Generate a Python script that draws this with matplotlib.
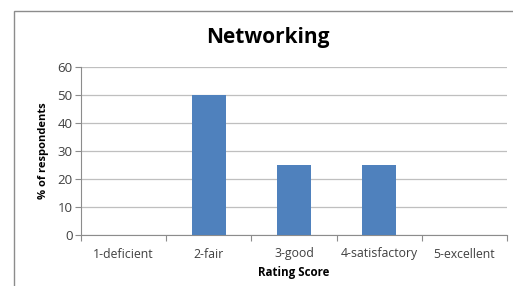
import matplotlib.pyplot as plt
from matplotlib.patches import Rectangle

categories = ["1-deficient", "2-fair", "3-good", "4-satisfactory", "5-excellent"]
values = [0, 50, 25, 25, 0]
y_ticks = [0, 10, 20, 30, 40, 50, 60]

plt.rcParams['font.family'] = ['Open Sans', 'DejaVu Sans']

fig = plt.figure(figsize=(5.13, 2.86), dpi=100)
fig.patches.append(Rectangle((14 / 513, -0.2), 1.2, 0.2 + 1 - 11 / 286,
                             transform=fig.transFigure, fill=False,
                             edgecolor='#8c8c8c', linewidth=1.0))

ax = fig.add_axes([81 / 513, 1 - 235 / 286, (507 - 81) / 513, (235 - 66.7) / 286])
x = list(range(len(categories)))
ax.bar(x, values, width=0.4, color='#4f81bd', zorder=3)

ax.set_xlim(-0.5, len(categories) - 0.5)
ax.set_ylim(0, 60)
ax.set_yticks(y_ticks)
ax.yaxis.grid(True, color='#bfbfbf', linewidth=0.9, zorder=0)

# boundary ticks between categories, labels centred on categories
ax.set_xticks([i + 0.5 for i in range(-1, len(categories))])
ax.set_xticklabels([])
ax.set_xticks(x, minor=True)
ax.set_xticklabels(categories, minor=True)
ax.tick_params(axis='x', which='minor', length=0, pad=9, labelsize=8.8, labelcolor='#404040')
ax.tick_params(axis='x', which='major', length=4, color='#8c8c8c', direction='out')
ax.tick_params(axis='y', length=4, color='#8c8c8c', labelsize=9.5, labelcolor='#404040', pad=2)

for side in ['top', 'right']:
    ax.spines[side].set_visible(False)
for side in ['left', 'bottom']:
    ax.spines[side].set_color('#8c8c8c')

ax.set_xlabel("Rating Score", fontsize=8.3, fontweight='bold', labelpad=4)
ax.set_ylabel("% of respondents", fontsize=8, fontweight='bold', labelpad=6)
fig.text(268 / 513, 1 - 37 / 286, "Networking", ha='center', va='center',
         fontsize=15, fontweight='bold')

fig.savefig("out.png", dpi=100)
